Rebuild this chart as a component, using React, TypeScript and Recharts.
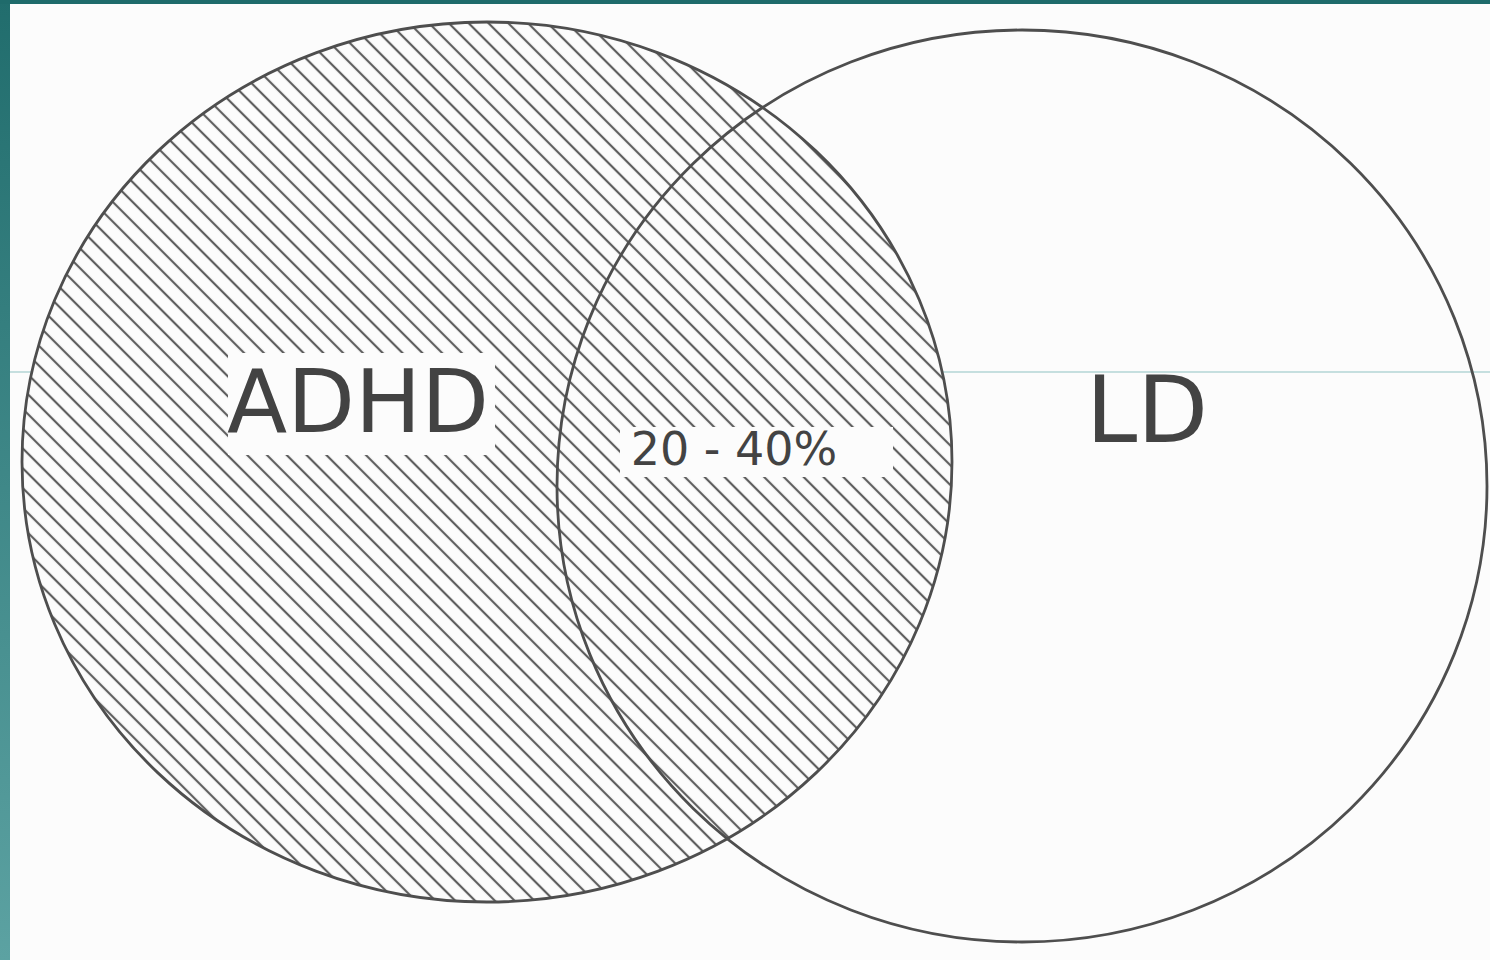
import { ReferenceLine, Scatter, ScatterChart, XAxis, YAxis } from "recharts";

const W = 1490;
const H = 960;

// the two sets (plot units = pixels, y down)
const setNames = ["ADHD", "LD"];
const setCenterX = [487, 1022];
const setCenterY = [462, 486];
const setRadiusX = [465, 465];
const setRadiusY = [440, 456];

// labels: text and baseline anchor
const labelTexts = ["ADHD", "20 - 40%", "LD"];
const labelX = [358, 734, 1147];
const labelY = [432, 465, 442];

// slide artifact line
const guideY = 372;

const circles = setNames.map((name, i) => ({
  name,
  x: setCenterX[i],
  y: setCenterY[i],
  rx: setRadiusX[i],
  ry: setRadiusY[i],
}));

const labels = labelTexts.map((text, i) => ({
  text,
  x: labelX[i],
  y: labelY[i],
}));

const labelLook: Record<
  string,
  { size: number; box?: { dx: number; dy: number; w: number; h: number } }
> = {
  ADHD: { size: 88, box: { dx: -130, dy: -79, w: 267, h: 102 } },
  "20 - 40%": { size: 46, box: { dx: -114, dy: -38, w: 273, h: 50 } },
  LD: { size: 92 },
};

const circleLook: Record<string, { fill: string }> = {
  ADHD: { fill: "url(#hatch)" },
  LD: { fill: "none" },
};

// 1 plot unit == 1 px since domain matches chart size
const kx = W / W;
const ky = H / H;
const HATCH = 14;

function CircleShape(props: any) {
  const { cx, cy, payload } = props;
  return (
    <ellipse
      cx={cx}
      cy={cy}
      fill={circleLook[payload.name].fill}
      rx={payload.rx * kx}
      ry={payload.ry * ky}
      stroke="#4e4e4e"
      strokeWidth={2.8}
    />
  );
}

function LabelShape(props: any) {
  const { cx, cy, payload } = props;
  const look = labelLook[payload.text];
  return (
    <g>
      {look.box && (
        <rect
          fill="#fcfcfc"
          height={look.box.h}
          width={look.box.w}
          x={cx + look.box.dx}
          y={cy + look.box.dy}
        />
      )}
      <text
        fill="#434343"
        fontFamily="DejaVu Sans, sans-serif"
        fontSize={look.size}
        textAnchor="middle"
        x={cx}
        y={cy}
      >
        {payload.text}
      </text>
    </g>
  );
}

export default function App() {
  return (
    <div
      style={{
        position: "absolute",
        left: 0,
        top: 0,
        width: W,
        height: H,
        background: "#fcfcfc",
        overflow: "hidden",
      }}
    >
      <ScatterChart height={H} margin={{ top: 0, right: 0, bottom: 0, left: 0 }} width={W}>
        <defs>
          <pattern
            height={HATCH}
            id="hatch"
            patternTransform="rotate(-45)"
            patternUnits="userSpaceOnUse"
            width={HATCH}
          >
            <rect fill="#fcfcfc" height={HATCH} width={HATCH} />
            <line
              stroke="#5e5e5e"
              strokeWidth={2.2}
              x1={HATCH / 2}
              x2={HATCH / 2}
              y1={0}
              y2={HATCH}
            />
          </pattern>
        </defs>
        <XAxis dataKey="x" domain={[0, W]} hide type="number" />
        <YAxis dataKey="y" domain={[0, H]} hide reversed type="number" />
        <Scatter data={circles} isAnimationActive={false} shape={<CircleShape />} />
        <Scatter data={labels} isAnimationActive={false} shape={<LabelShape />} />
        <ReferenceLine stroke="#8fc2c2" strokeWidth={1} y={guideY} />
      </ScatterChart>
      <div
        style={{
          position: "absolute",
          left: 0,
          top: 0,
          width: 10,
          height: H,
          background: "linear-gradient(to bottom, #216d6d, #5ca2a2)",
        }}
      />
      <div
        style={{
          position: "absolute",
          left: 0,
          top: 0,
          width: W,
          height: 4,
          background: "#1f6b6b",
        }}
      />
    </div>
  );
}
